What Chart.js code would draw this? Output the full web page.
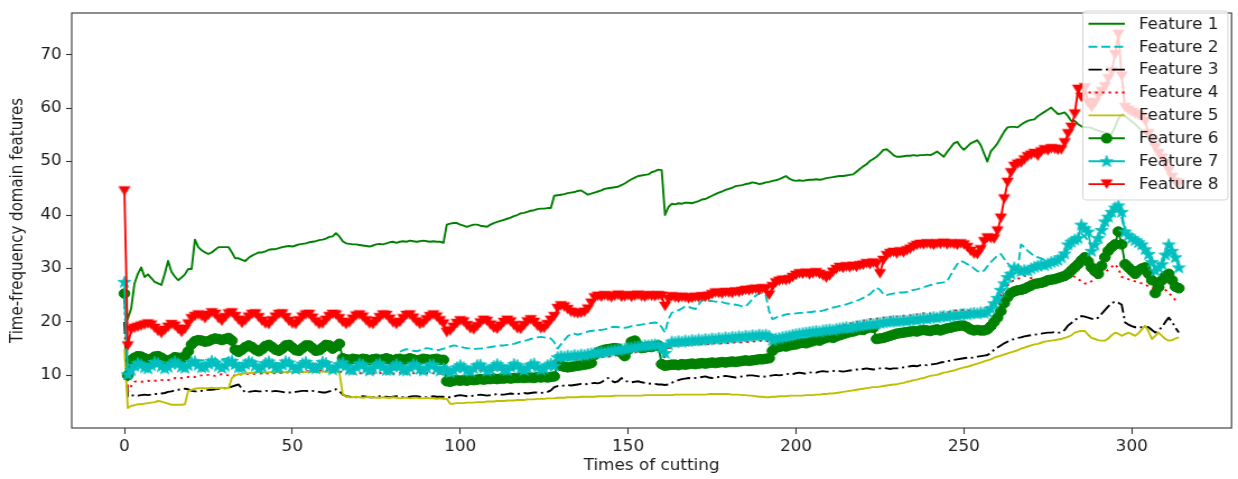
<!DOCTYPE html>
<html>
<head>
<meta charset="utf-8">
<script src="https://cdn.jsdelivr.net/npm/chart.js@4.4.1/dist/chart.umd.min.js"></script>
<style>
  html, body { margin: 0; padding: 0; background: #fff; }
  /* the reference figure is stretched sideways, so the canvas is drawn narrower and widened by css */
  #chart { display: block; width: 1238px !important; height: 479px !important; }
</style>
</head>
<body>
<canvas id="chart" width="1105" height="479" style="width:1238px;height:479px"></canvas>
<script>
const cuts = Array.from({length: 315}, (_, i) => i);
const xTicks = [0, 50, 100, 150, 200, 250, 300];
const yTicks = [10, 20, 30, 40, 50, 60, 70];
const featureNames = ['Feature 1', 'Feature 2', 'Feature 3', 'Feature 4',
                      'Feature 5', 'Feature 6', 'Feature 7', 'Feature 8'];

const feature1 = [
  24.0, 20.6, 22.5, 27.2, 29.0, 30.2, 28.4, 28.9, 28.2, 27.5,
  27.2, 26.9, 29.0, 31.4, 29.4, 28.5, 27.8, 28.3, 28.9, 29.9,
  29.9, 35.4, 34.0, 33.4, 33.0, 32.7, 33.0, 33.5, 34.0, 34.0,
  34.0, 34.0, 33.0, 31.9, 31.9, 31.6, 31.4, 32.0, 32.4, 32.7,
  33.0, 33.0, 33.2, 33.5, 33.6, 33.6, 33.8, 34.0, 34.1, 34.2,
  34.1, 34.3, 34.5, 34.6, 34.7, 34.9, 35.0, 35.1, 35.3, 35.4,
  35.6, 35.9, 36.0, 36.6, 36.0, 35.1, 34.7, 34.6, 34.5, 34.5,
  34.4, 34.3, 34.2, 34.1, 34.3, 34.5, 34.6, 34.5, 34.7, 34.9,
  35.0, 34.8, 35.0, 35.1, 35.0, 35.2, 35.1, 35.0, 35.1, 35.2,
  35.1, 35.0, 35.1, 35.0, 35.0, 34.8, 38.2, 38.4, 38.5, 38.5,
  38.2, 38.0, 37.8, 38.0, 38.2, 38.2, 38.0, 37.9, 37.8, 38.2,
  38.5, 38.7, 38.9, 39.1, 39.3, 39.5, 39.8, 40.0, 40.3, 40.4,
  40.6, 40.8, 40.9, 41.1, 41.2, 41.2, 41.3, 41.3, 43.6, 43.7,
  43.8, 43.9, 44.1, 44.2, 44.3, 44.5, 44.6, 44.2, 43.8, 44.0,
  44.2, 44.4, 44.6, 44.9, 45.0, 45.1, 45.2, 45.3, 45.6, 45.9,
  46.3, 46.7, 47.0, 47.3, 47.4, 47.5, 47.6, 48.0, 48.2, 48.5,
  48.4, 40.0, 41.5, 42.1, 42.0, 42.2, 42.1, 42.3, 42.3, 42.2,
  42.4, 42.6, 42.9, 43.0, 43.3, 43.6, 43.9, 44.2, 44.4, 44.7,
  44.9, 45.1, 45.4, 45.5, 45.6, 45.8, 45.9, 46.1, 46.0, 45.8,
  45.9, 46.1, 46.2, 46.4, 46.5, 46.7, 47.0, 47.3, 46.8, 46.5,
  46.4, 46.5, 46.4, 46.5, 46.6, 46.6, 46.7, 46.6, 46.7, 46.9,
  47.0, 47.1, 47.2, 47.3, 47.3, 47.4, 47.5, 47.6, 48.1, 48.6,
  49.1, 49.5, 50.1, 50.5, 50.9, 51.5, 52.2, 52.3, 51.8, 51.2,
  50.9, 50.9, 51.0, 51.1, 51.1, 51.2, 51.1, 51.2, 51.2, 51.3,
  51.2, 51.5, 51.9, 51.4, 50.9, 51.8, 52.6, 53.4, 53.7, 52.8,
  52.2, 52.8, 53.4, 53.7, 54.0, 53.1, 51.5, 50.0, 51.9, 52.6,
  53.4, 54.5, 55.6, 56.4, 56.5, 56.5, 56.4, 56.9, 57.3, 57.6,
  57.8, 57.9, 58.5, 58.9, 59.3, 59.7, 60.1, 59.5, 58.9, 59.0,
  59.2, 58.5, 57.6, 57.6, 57.0, 56.6, 56.4, 56.4, 56.3, 56.0,
  55.8, 55.6, 55.4, 55.3, 55.2, 56.5, 58.0, 58.9, 58.5, 58.0,
  57.5, 57.0, 56.4, 55.8, 55.2, 54.4, 53.6, 52.8, 51.8, 50.8,
  49.7, 48.5, 47.3, 46.3, 45.8
];

const feature2 = [
  26.5, 10.5, 11.4, 11.6, 11.8, 11.9, 12.0, 12.0, 12.1, 12.2,
  12.2, 12.3, 12.3, 12.4, 12.4, 12.5, 12.5, 12.6, 12.6, 12.7,
  12.7, 12.8, 12.8, 12.8, 12.9, 12.9, 12.9, 13.0, 13.0, 13.0,
  13.1, 13.3, 13.8, 14.5, 14.6, 14.7, 14.8, 14.8, 14.9, 14.9,
  14.9, 14.9, 15.0, 15.0, 15.0, 15.0, 15.0, 15.0, 15.1, 15.1,
  15.1, 15.1, 15.1, 15.1, 15.1, 15.1, 15.2, 15.2, 15.2, 15.2,
  15.2, 15.2, 15.2, 15.2, 15.0, 13.3, 13.1, 13.0, 13.0, 13.0,
  13.0, 13.0, 13.0, 13.0, 13.0, 13.0, 13.0, 13.0, 13.0, 13.1,
  13.4, 13.9, 14.4, 14.7, 14.9, 14.8, 14.6, 14.5, 14.7, 14.9,
  15.1, 15.0, 14.8, 14.7, 14.8, 15.0, 15.2, 15.4, 15.6, 15.5,
  15.4, 15.2, 15.1, 15.0, 14.9, 15.0, 15.0, 15.1, 15.2, 15.3,
  15.4, 15.5, 15.6, 15.6, 15.7, 15.8, 15.9, 16.1, 16.3, 16.4,
  16.6, 16.8, 17.0, 17.1, 17.2, 17.1, 17.0, 16.9, 16.2, 15.0,
  15.8, 16.6, 17.3, 17.7, 17.8, 17.6, 17.8, 18.0, 18.2, 18.3,
  18.4, 18.5, 18.5, 18.6, 18.8, 19.0, 19.1, 19.0, 19.0, 18.9,
  19.0, 19.2, 19.3, 19.4, 19.5, 19.6, 19.7, 19.8, 19.9, 19.8,
  19.0, 18.0, 20.5, 21.7, 22.0, 22.2, 22.5, 22.9, 22.8, 22.6,
  22.4, 23.2, 24.1, 24.0, 23.9, 23.9, 23.8, 23.8, 23.7, 23.5,
  23.4, 23.3, 23.2, 23.1, 22.9, 22.9, 23.5, 24.3, 24.9, 25.3,
  25.4, 25.0, 22.0, 20.5, 20.8, 21.0, 21.2, 21.4, 21.5, 21.5,
  21.6, 21.7, 21.7, 21.8, 21.8, 21.9, 22.0, 22.0, 22.1, 22.3,
  22.5, 22.7, 22.8, 23.0, 23.1, 23.3, 23.5, 23.7, 23.9, 24.2,
  24.5, 24.8, 25.2, 25.8, 26.4, 26.0, 25.2, 25.0, 25.2, 25.3,
  25.4, 25.5, 25.5, 25.6, 25.8, 26.0, 26.1, 26.3, 26.5, 26.7,
  26.9, 27.0, 27.2, 27.3, 27.4, 27.6, 28.7, 29.8, 30.8, 31.4,
  31.2, 30.8, 30.6, 30.0, 29.5, 29.3, 29.6, 30.4, 31.2, 31.8,
  32.4, 32.7, 31.8, 31.0, 30.4, 29.8, 29.6, 34.5, 34.0, 33.3,
  32.8, 32.3, 32.1, 31.9, 31.6, 31.4, 31.0, 30.8, 31.2, 31.8,
  32.4, 33.5, 34.0, 34.5, 35.0, 36.5, 36.0, 35.2, 34.0, 34.6,
  35.2, 36.5, 38.0, 39.0, 39.8, 40.5, 41.0, 39.5, 36.5, 35.8,
  35.2, 34.8, 34.3, 33.8, 33.0, 32.2, 31.0, 29.8, 30.2, 30.8,
  32.0, 33.5, 32.6, 31.5, 30.5
];

const feature3 = [
  20.0, 6.0, 6.2, 6.3, 6.2, 6.3, 6.4, 6.3, 6.4, 6.5,
  6.5, 6.6, 6.7, 6.9, 7.0, 7.2, 7.3, 7.4, 7.5, 7.4,
  7.1, 7.0, 7.0, 7.1, 7.2, 7.3, 7.3, 7.4, 7.5, 7.6,
  7.6, 7.7, 7.9, 8.1, 8.3, 7.5, 6.8, 6.9, 7.0, 7.1,
  7.0, 7.0, 7.1, 7.1, 7.0, 7.1, 7.0, 6.9, 6.8, 6.8,
  6.8, 6.9, 7.0, 7.1, 7.1, 7.0, 7.1, 7.0, 6.9, 6.8,
  6.8, 7.0, 7.2, 7.4, 7.1, 6.4, 6.1, 6.0, 5.9, 5.9,
  6.0, 6.1, 6.0, 5.9, 5.9, 6.0, 6.1, 6.0, 6.0, 5.9,
  6.0, 6.1, 6.0, 5.9, 5.9, 6.0, 6.1, 6.1, 6.0, 5.9,
  5.9, 6.0, 6.1, 6.0, 6.0, 6.0, 5.9, 5.9, 6.0, 6.2,
  6.3, 6.2, 6.1, 6.1, 6.2, 6.3, 6.4, 6.3, 6.2, 6.3,
  6.4, 6.5, 6.4, 6.4, 6.5, 6.6, 6.5, 6.5, 6.6, 6.7,
  6.6, 6.7, 6.8, 6.8, 6.7, 6.8, 6.9, 7.2, 7.8, 8.0,
  8.0, 8.1, 8.2, 8.1, 8.2, 8.3, 8.4, 8.3, 8.4, 8.5,
  8.6, 8.5, 8.7, 9.1, 9.5, 9.0, 8.7, 8.9, 9.5, 9.0,
  8.8, 8.7, 8.8, 8.9, 8.7, 8.6, 8.5, 8.4, 8.4, 8.3,
  8.3, 8.2, 8.3, 8.6, 8.9, 9.1, 9.3, 9.4, 9.5, 9.4,
  9.5, 9.6, 9.7, 9.8, 9.6, 9.5, 9.6, 9.7, 9.8, 9.9,
  9.8, 9.7, 9.6, 9.7, 9.8, 9.9, 10.0, 10.0, 9.9, 9.8,
  9.7, 9.8, 9.9, 10.0, 10.1, 10.0, 10.1, 10.2, 10.3, 10.2,
  10.4, 10.5, 10.4, 10.3, 10.5, 10.6, 10.5, 10.7, 10.8, 10.7,
  10.7, 10.8, 10.9, 10.8, 10.7, 10.8, 10.9, 11.0, 11.1, 11.0,
  11.2, 11.3, 11.2, 11.1, 11.2, 11.3, 11.4, 11.3, 11.2, 11.3,
  11.3, 11.4, 11.5, 11.6, 11.7, 11.8, 11.7, 11.9, 12.0, 11.9,
  12.0, 12.1, 12.2, 12.4, 12.5, 12.6, 12.8, 12.9, 13.0, 13.1,
  13.2, 13.3, 13.2, 13.4, 13.5, 13.6, 13.7, 13.8, 14.2, 14.8,
  15.2, 15.6, 16.0, 16.3, 16.6, 16.8, 17.0, 17.1, 17.3, 17.4,
  17.5, 17.6, 17.7, 17.8, 17.9, 18.0, 18.0, 18.1, 18.0, 18.0,
  18.5, 19.3, 19.8, 20.3, 20.8, 21.1, 21.0, 20.8, 20.6, 20.5,
  20.8, 21.5, 22.2, 22.9, 23.5, 23.8, 23.6, 23.2, 19.9, 19.5,
  19.2, 19.0, 19.0, 19.0, 19.1, 19.0, 18.5, 18.0, 18.5, 19.0,
  20.0, 20.8, 20.0, 18.9, 18.0
];

const feature4 = [
  24.0, 7.0, 8.0, 8.8, 8.9, 8.8, 8.9, 9.0, 8.9, 9.0,
  9.0, 9.1, 9.2, 9.1, 9.3, 9.5, 9.4, 9.5, 9.6, 9.7,
  9.8, 9.7, 9.9, 10.0, 10.0, 10.1, 10.0, 9.9, 10.1, 10.2,
  10.1, 10.0, 9.9, 10.0, 10.1, 10.2, 10.2, 10.3, 10.2, 10.3,
  10.3, 10.4, 10.3, 10.4, 10.4, 10.4, 10.5, 10.4, 10.5, 10.6,
  10.6, 10.7, 10.6, 10.7, 10.8, 10.8, 10.9, 10.8, 10.9, 10.9,
  10.9, 10.8, 10.9, 10.8, 10.7, 10.6, 10.5, 10.4, 10.4, 10.3,
  10.4, 10.4, 10.3, 10.4, 10.4, 10.3, 10.4, 10.5, 10.4, 10.4,
  10.3, 10.4, 10.5, 10.4, 10.3, 10.4, 10.4, 10.5, 10.4, 10.3,
  10.4, 10.5, 10.4, 10.4, 10.3, 10.4, 10.5, 10.6, 10.6, 10.7,
  10.7, 10.7, 10.8, 10.8, 10.8, 10.9, 10.9, 10.9, 11.0, 11.0,
  11.0, 11.0, 11.1, 11.1, 11.1, 11.1, 11.2, 11.2, 11.2, 11.2,
  11.3, 11.3, 11.3, 11.3, 11.3, 11.4, 11.4, 11.4, 11.5, 12.6,
  12.8, 12.9, 12.9, 12.9, 13.0, 12.9, 13.0, 13.0, 13.1, 13.2,
  13.3, 13.4, 13.4, 13.5, 13.5, 13.6, 13.7, 13.8, 13.9, 14.0,
  14.1, 14.2, 14.3, 14.4, 14.5, 14.6, 14.6, 14.7, 14.8, 14.8,
  14.5, 13.2, 15.0, 15.5, 15.6, 15.5, 15.6, 15.7, 15.6, 15.7,
  15.8, 15.7, 15.8, 15.9, 15.8, 15.9, 16.0, 15.9, 16.0, 16.1,
  16.0, 16.1, 16.2, 16.1, 16.2, 16.3, 16.2, 16.3, 16.4, 16.4,
  16.5, 16.5, 16.3, 16.0, 16.3, 16.5, 16.7, 16.8, 17.0, 17.1,
  17.3, 17.4, 17.6, 17.7, 17.9, 18.0, 18.2, 18.3, 18.5, 18.6,
  18.8, 18.9, 19.1, 19.2, 19.4, 19.5, 19.7, 19.8, 20.0, 20.1,
  20.2, 20.4, 20.5, 20.6, 20.6, 20.7, 20.8, 20.8, 20.9, 21.0,
  21.0, 21.1, 21.1, 21.2, 21.2, 21.3, 21.4, 21.5, 21.6, 21.7,
  21.5, 21.3, 21.4, 21.6, 21.8, 21.7, 21.9, 22.0, 22.2, 22.1,
  22.3, 22.2, 22.0, 21.8, 21.7, 21.9, 22.4, 22.8, 23.2, 23.5,
  24.1, 25.0, 26.0, 26.8, 27.5, 27.8, 28.0, 28.4, 28.6, 28.4,
  28.2, 28.0, 27.9, 28.1, 28.3, 28.2, 28.0, 28.2, 28.4, 28.6,
  29.0, 29.2, 28.8, 28.4, 28.0, 27.6, 27.2, 27.2, 27.6, 28.0,
  28.4, 28.8, 29.3, 29.8, 30.3, 30.8, 30.0, 28.4, 28.2, 28.0,
  27.8, 27.6, 27.4, 27.2, 27.0, 26.6, 26.4, 26.2, 26.2, 26.3,
  26.0, 25.4, 24.8, 24.1, 23.8
];

const feature5 = [
  15.0, 3.9, 4.3, 4.4, 4.6, 4.6, 4.7, 4.8, 4.9, 5.0,
  5.2, 5.1, 4.9, 4.7, 4.5, 4.5, 4.5, 4.5, 4.6, 7.1,
  7.3, 7.5, 7.6, 7.6, 7.6, 7.6, 7.7, 7.6, 7.6, 7.7,
  7.6, 7.6, 9.5, 10.0, 10.2, 10.3, 10.4, 10.4, 10.5, 10.5,
  10.6, 10.6, 10.5, 10.6, 10.6, 10.6, 10.7, 10.6, 10.6, 10.7,
  10.6, 10.6, 10.7, 10.6, 10.6, 10.7, 10.7, 10.6, 10.6, 10.7,
  10.7, 10.6, 10.6, 10.7, 10.6, 6.5, 6.0, 5.9, 5.9, 6.0,
  5.9, 5.8, 5.9, 6.0, 5.9, 5.8, 5.8, 5.9, 5.8, 5.8,
  5.9, 5.8, 5.7, 5.8, 5.8, 5.7, 5.8, 5.8, 5.7, 5.7,
  5.8, 5.7, 5.7, 5.6, 5.7, 5.6, 5.6, 4.7, 4.7, 4.8,
  4.8, 4.8, 4.9, 4.9, 4.9, 5.0, 5.0, 5.0, 5.1, 5.1,
  5.1, 5.2, 5.2, 5.2, 5.3, 5.3, 5.3, 5.4, 5.4, 5.4,
  5.5, 5.5, 5.5, 5.6, 5.6, 5.6, 5.7, 5.7, 5.7, 5.8,
  5.8, 5.8, 5.9, 5.9, 5.9, 5.9, 6.0, 6.0, 6.0, 6.0,
  6.0, 6.1, 6.1, 6.1, 6.1, 6.1, 6.2, 6.2, 6.2, 6.2,
  6.2, 6.2, 6.2, 6.2, 6.2, 6.3, 6.3, 6.3, 6.3, 6.3,
  6.3, 6.3, 6.3, 6.3, 6.4, 6.4, 6.4, 6.4, 6.4, 6.4,
  6.4, 6.4, 6.4, 6.4, 6.5, 6.5, 6.5, 6.5, 6.5, 6.5,
  6.5, 6.4, 6.4, 6.4, 6.3, 6.3, 6.2, 6.2, 6.1, 6.0,
  6.0, 5.9, 5.9, 6.0, 6.0, 6.1, 6.1, 6.1, 6.2, 6.2,
  6.2, 6.2, 6.2, 6.3, 6.3, 6.3, 6.4, 6.4, 6.5, 6.5,
  6.6, 6.6, 6.7, 6.8, 6.9, 7.0, 7.1, 7.2, 7.3, 7.4,
  7.5, 7.6, 7.7, 7.8, 7.8, 7.9, 8.0, 8.1, 8.2, 8.3,
  8.3, 8.5, 8.6, 8.8, 8.9, 9.1, 9.2, 9.4, 9.5, 9.7,
  9.9, 10.0, 10.1, 10.3, 10.5, 10.6, 10.8, 10.9, 11.1, 11.3,
  11.5, 11.6, 11.8, 12.0, 12.2, 12.4, 12.6, 12.8, 13.0, 13.3,
  13.5, 13.7, 13.9, 14.1, 14.3, 14.5, 14.7, 15.0, 15.2, 15.4,
  15.6, 15.8, 15.9, 16.1, 16.3, 16.4, 16.5, 16.6, 16.7, 16.8,
  17.0, 17.2, 17.5, 18.0, 18.2, 18.3, 18.3, 17.6, 17.0, 16.8,
  16.6, 16.5, 16.5, 16.9, 17.5, 18.0, 17.8, 17.4, 17.7, 18.0,
  17.7, 17.4, 17.9, 18.6, 19.3, 18.2, 16.8, 17.4, 18.0, 17.4,
  16.8, 16.5, 16.6, 16.9, 17.1
];

const feature6 = [
  25.3, 10.0, 12.8, 13.3, 13.6, 13.5, 13.2, 12.9, 13.1, 13.5,
  13.6, 13.3, 12.9, 12.7, 13.0, 13.4, 13.3, 13.0, 13.6, 14.5,
  15.8, 16.4, 16.6, 16.5, 16.3, 16.4, 16.7, 16.9, 16.8, 16.6,
  16.8, 17.0, 16.5, 14.8, 14.4, 14.8, 15.3, 15.6, 15.3, 14.8,
  14.5, 14.9, 15.5, 15.7, 15.3, 14.8, 14.6, 15.0, 15.6, 15.7,
  15.2, 14.7, 14.6, 15.1, 15.6, 15.6, 15.1, 14.6, 14.7, 15.2,
  15.7, 15.6, 15.0, 15.4, 15.9, 13.2, 13.0, 12.9, 13.1, 13.0,
  12.9, 13.1, 13.0, 12.8, 13.0, 13.1, 12.9, 13.0, 13.2, 13.0,
  12.8, 13.0, 13.1, 12.9, 13.0, 13.2, 13.0, 12.8, 12.9, 13.1,
  13.0, 12.9, 13.0, 13.1, 12.9, 12.9, 8.9, 8.8, 9.0, 9.1,
  9.0, 9.1, 9.0, 9.2, 9.1, 9.2, 9.3, 9.2, 9.3, 9.3,
  9.4, 9.3, 9.4, 9.4, 9.5, 9.4, 9.5, 9.5, 9.6, 9.5,
  9.6, 9.6, 9.5, 9.7, 9.6, 9.7, 9.6, 9.7, 9.8, 12.2,
  11.8, 11.6, 11.5, 11.6, 11.7, 11.8, 11.9, 12.0, 12.1, 12.3,
  13.8, 14.3, 14.6, 14.8, 14.9, 15.0, 15.1, 15.0, 14.2, 13.6,
  14.8, 16.3, 16.5, 15.6, 15.1, 15.2, 15.4, 15.3, 15.5, 15.6,
  12.1, 11.8, 11.9, 12.0, 12.0, 11.9, 12.1, 12.0, 12.1, 12.2,
  12.1, 12.2, 12.3, 12.2, 12.3, 12.4, 12.3, 12.4, 12.5, 12.4,
  12.5, 12.6, 12.5, 12.6, 12.7, 12.8, 12.7, 12.8, 12.9, 13.0,
  13.0, 13.1, 13.2, 14.6, 15.2, 15.3, 15.5, 15.4, 15.6, 15.7,
  15.8, 16.0, 16.1, 16.0, 16.2, 16.4, 16.6, 16.5, 16.8, 17.0,
  17.2, 17.0, 17.3, 17.5, 17.7, 17.9, 18.1, 18.2, 18.4, 18.6,
  18.5, 18.8, 19.0, 18.9, 16.8, 16.9, 17.0, 17.2, 17.4, 17.6,
  17.8, 17.9, 18.0, 18.1, 18.2, 18.3, 18.2, 18.4, 18.5, 18.4,
  18.3, 18.5, 18.6, 18.4, 18.6, 18.8, 18.9, 19.1, 19.2, 19.3,
  19.3, 19.0, 18.6, 18.4, 18.5, 18.4, 18.4, 18.6, 19.2, 20.0,
  20.8, 22.0, 23.5, 24.6, 25.4, 25.7, 25.9, 26.0, 26.2, 26.5,
  26.8, 27.1, 27.2, 27.3, 27.5, 27.8, 27.9, 28.0, 28.2, 28.4,
  28.6, 29.0, 29.6, 30.2, 30.8, 31.5, 32.1, 31.3, 30.2, 29.5,
  29.0, 30.5, 32.1, 33.3, 34.0, 34.5, 36.9, 34.5, 30.8, 30.2,
  29.6, 29.0, 29.6, 30.0, 30.2, 29.0, 27.8, 25.4, 26.5, 27.8,
  28.6, 29.0, 27.8, 26.6, 26.3
];

const feature7 = [
  27.5, 10.2, 11.0, 11.8, 12.3, 12.0, 11.5, 11.3, 11.9, 12.5,
  12.3, 11.7, 11.3, 11.6, 12.2, 12.6, 12.2, 11.6, 11.4, 11.9,
  12.5, 12.6, 12.0, 11.5, 11.6, 12.2, 12.7, 12.4, 11.8, 11.4,
  11.8, 12.5, 12.7, 12.1, 11.5, 11.5, 12.1, 12.6, 12.4, 11.8,
  11.3, 11.6, 12.3, 12.6, 12.1, 11.5, 11.4, 12.0, 12.6, 12.4,
  11.7, 11.2, 11.5, 12.2, 12.5, 12.0, 11.4, 11.3, 11.9, 12.5,
  12.3, 11.6, 11.1, 11.4, 12.1, 12.4, 11.8, 11.1, 11.0, 11.6,
  12.2, 12.0, 11.3, 10.9, 11.3, 12.0, 12.2, 11.6, 11.0, 11.0,
  11.7, 12.1, 11.7, 11.0, 10.9, 11.5, 12.1, 11.9, 11.2, 10.9,
  11.4, 12.0, 12.0, 11.3, 10.9, 11.3, 11.0, 10.6, 10.9, 11.5,
  11.9, 11.5, 10.9, 10.8, 11.3, 11.9, 12.0, 11.4, 10.9, 11.1,
  11.7, 12.1, 11.7, 11.1, 11.0, 11.6, 12.1, 11.9, 11.3, 11.0,
  11.4, 12.0, 12.2, 11.6, 11.1, 11.3, 11.9, 12.2, 11.8, 13.4,
  13.6, 13.5, 13.7, 13.6, 13.8, 13.7, 13.9, 13.8, 14.0, 14.1,
  14.2, 14.3, 14.4, 14.3, 14.5, 14.6, 14.7, 14.8, 14.9, 15.0,
  15.1, 15.2, 15.3, 15.4, 15.5, 15.6, 15.6, 15.7, 15.8, 15.7,
  15.3, 14.2, 15.8, 16.3, 16.2, 16.4, 16.3, 16.5, 16.4, 16.6,
  16.5, 16.7, 16.6, 16.8, 16.7, 16.9, 16.8, 17.0, 16.9, 17.1,
  17.0, 17.2, 17.1, 17.3, 17.2, 17.4, 17.3, 17.5, 17.4, 17.6,
  17.5, 17.6, 17.4, 16.6, 16.9, 17.0, 17.2, 17.3, 17.4, 17.6,
  17.7, 17.8, 17.9, 18.0, 18.1, 18.2, 18.3, 18.2, 18.4, 18.5,
  18.6, 18.5, 18.7, 18.8, 18.9, 19.0, 18.9, 19.1, 19.2, 19.3,
  19.4, 19.5, 19.6, 19.6, 19.7, 19.8, 19.9, 20.0, 20.1, 20.2,
  20.1, 20.2, 20.3, 20.2, 20.4, 20.5, 20.4, 20.6, 20.7, 20.6,
  20.8, 20.9, 20.8, 21.0, 21.1, 21.0, 21.2, 21.3, 21.2, 21.4,
  21.5, 21.4, 21.6, 21.7, 21.6, 21.8, 21.7, 21.9, 22.5, 23.5,
  24.5, 26.0, 27.2, 28.4, 29.0, 30.2, 29.8, 29.5, 29.7, 29.6,
  30.0, 30.3, 30.5, 30.8, 30.6, 30.9, 31.2, 31.4, 31.6, 32.1,
  32.8, 34.5, 35.0, 35.4, 35.7, 38.2, 37.5, 36.9, 33.3, 34.5,
  35.7, 37.2, 38.8, 39.7, 40.6, 41.4, 41.8, 40.6, 36.9, 36.2,
  35.7, 35.3, 34.9, 34.5, 33.6, 32.7, 31.2, 29.6, 30.2, 30.8,
  32.6, 34.5, 33.3, 32.1, 30.2
];

const feature8 = [
  44.5, 15.5, 18.5, 18.8, 19.0, 19.2, 19.4, 19.6, 19.4, 18.8,
  18.2, 17.8, 18.4, 19.0, 19.5, 19.2, 18.6, 18.0, 18.6, 19.6,
  20.6, 21.0, 21.3, 21.0, 20.6, 21.2, 21.7, 21.4, 20.6, 20.1,
  20.8, 21.5, 21.7, 21.0, 20.3, 19.7, 20.2, 20.9, 21.4, 21.5,
  20.8, 20.1, 19.6, 19.5, 20.2, 20.9, 21.4, 21.5, 20.8, 20.1,
  19.6, 19.5, 20.2, 20.9, 21.3, 21.4, 20.7, 20.0, 19.5, 19.6,
  20.3, 21.0, 21.4, 21.3, 20.6, 19.9, 19.5, 19.8, 20.5, 21.1,
  21.3, 20.9, 20.2, 19.6, 19.5, 20.1, 20.8, 21.3, 21.2, 20.5,
  19.8, 19.5, 19.9, 20.6, 21.2, 21.3, 20.7, 20.0, 19.5, 19.7,
  20.4, 21.0, 21.3, 20.9, 20.2, 19.6, 18.0, 18.3, 19.0, 19.7,
  20.2, 20.0, 19.3, 18.7, 18.5, 19.1, 19.8, 20.3, 20.1, 19.4,
  18.8, 18.6, 19.2, 19.9, 20.3, 20.0, 19.3, 18.7, 18.6, 19.3,
  20.0, 20.4, 19.9, 19.2, 18.7, 18.8, 19.5, 20.3, 21.0, 22.5,
  23.0, 22.8, 22.3, 21.8, 21.6, 21.5, 21.6, 21.8, 22.4, 23.5,
  24.5, 24.8, 24.6, 24.9, 24.7, 24.5, 24.8, 25.0, 24.6, 24.7,
  24.9, 24.6, 24.8, 25.0, 24.7, 24.6, 24.9, 24.8, 24.7, 24.9,
  24.8, 22.9, 24.2, 24.7, 24.5, 24.4, 24.6, 24.5, 24.3, 24.4,
  24.6, 24.5, 24.7, 24.6, 24.8, 25.1, 25.4, 25.3, 25.2, 25.5,
  25.4, 25.3, 25.6, 25.5, 25.7, 25.9, 25.8, 26.0, 26.1, 25.9,
  26.2, 26.1, 25.0, 26.6, 27.3, 27.6, 27.8, 27.7, 27.9, 28.3,
  28.7, 29.0, 28.9, 29.1, 28.8, 29.0, 29.2, 28.9, 28.6, 28.2,
  28.6, 29.3, 29.8, 30.2, 30.0, 30.3, 30.1, 30.4, 30.2, 30.5,
  30.6, 30.9, 30.7, 31.0, 30.8, 29.0, 31.5, 32.4, 32.8, 33.0,
  32.7, 33.1, 32.9, 33.3, 33.6, 34.0, 34.3, 34.5, 34.4, 34.6,
  34.5, 34.3, 34.6, 34.5, 34.7, 34.4, 34.6, 34.5, 34.3, 34.6,
  34.4, 33.9, 33.2, 32.7, 32.6, 33.5, 35.0, 35.7, 35.6, 35.5,
  37.0, 39.4, 43.0, 46.1, 47.9, 49.1, 49.5, 49.7, 50.3, 50.9,
  51.2, 51.5, 51.0, 51.8, 52.2, 52.0, 52.4, 52.3, 52.1, 52.2,
  53.5, 55.2, 56.4, 58.9, 63.5, 62.0, 63.8, 61.0, 60.1, 61.0,
  62.3, 63.1, 64.0, 65.5, 66.8, 70.0, 73.8, 66.0, 60.1, 59.6,
  59.2, 58.9, 58.6, 58.3, 57.5, 55.2, 54.0, 52.6, 51.5, 50.6,
  49.7, 48.3, 47.0, 46.1, 45.9
];

const series = [feature1, feature2, feature3, feature4, feature5, feature6, feature7, feature8];

// marker images (matplotlib 'v' and '*')
function markerCanvas(w, h, draw) {
  const c = document.createElement('canvas');
  c.width = w;
  c.height = h;
  draw(c.getContext('2d'));
  return c;
}
const triangleDown = markerCanvas(13, 13, ctx => {
  ctx.beginPath();
  ctx.moveTo(1, 1.75);
  ctx.lineTo(12, 1.75);
  ctx.lineTo(6.5, 11.25);
  ctx.closePath();
  ctx.fillStyle = '#ff0000';
  ctx.fill();
});
const starMarker = markerCanvas(14, 14, ctx => {
  ctx.beginPath();
  for (let k = 0; k < 10; k++) {
    const r = k % 2 === 0 ? 6.2 : 2.5;
    const a = -Math.PI / 2 + k * Math.PI / 5;
    const px = 7 + r * Math.cos(a), py = 7.4 + r * Math.sin(a);
    if (k === 0) ctx.moveTo(px, py); else ctx.lineTo(px, py);
  }
  ctx.closePath();
  ctx.fillStyle = '#00bfbf';
  ctx.strokeStyle = '#00bfbf';
  ctx.lineWidth = 0.8;
  ctx.fill();
  ctx.stroke();
});

const styles = [
  { color: '#008000', dash: [], marker: null },
  { color: '#00bfbf', dash: [8, 3.5], marker: null },
  { color: '#000000', dash: [12, 3.5, 2, 3.5], marker: null },
  { color: '#ff0000', dash: [2.2, 3.8], marker: null },
  { color: '#bfbf00', dash: [], marker: null },
  { color: '#008000', dash: [], marker: 'circle' },
  { color: '#00bfbf', dash: [], marker: starMarker },
  { color: '#ff0000', dash: [], marker: triangleDown }
];

const LINE_W = 1.9;
const FONT = { family: 'DejaVu Sans', size: 15 };
const TEXT = '#1c1c1c';

const datasets = series.map((vals, i) => {
  const st = styles[i];
  return {
    label: featureNames[i],
    data: vals.map((v, j) => ({ x: cuts[j], y: v })),
    borderColor: st.color,
    backgroundColor: st.color,
    borderWidth: LINE_W,
    borderDash: st.dash,
    borderCapStyle: 'butt',
    borderJoinStyle: 'round',
    tension: 0,
    fill: false,
    order: 8 - i,
    pointStyle: st.marker || 'circle',
    pointRadius: st.marker ? 4.8 : 0,
    pointBorderWidth: 1,
    pointBorderColor: st.color,
    pointBackgroundColor: st.color,
    pointHitRadius: 0
  };
});

const frameAndLegend = {
  id: 'frameAndLegend',
  afterDatasetsDraw(chart) {
    const ctx = chart.ctx;
    const a = chart.chartArea;
    ctx.save();
    ctx.strokeStyle = '#333';
    ctx.lineWidth = 1.1;
    ctx.strokeRect(a.left, a.top, a.right - a.left, a.bottom - a.top);

    // legend box, upper right inside the axes
    const bx = 966.5, by = 11, bw = 129.5, bh = 189, rad = 3;
    ctx.beginPath();
    ctx.moveTo(bx + rad, by);
    ctx.arcTo(bx + bw, by, bx + bw, by + bh, rad);
    ctx.arcTo(bx + bw, by + bh, bx, by + bh, rad);
    ctx.arcTo(bx, by + bh, bx, by, rad);
    ctx.arcTo(bx, by, bx + bw, by, rad);
    ctx.closePath();
    ctx.fillStyle = 'rgba(255,255,255,0.8)';
    ctx.fill();
    ctx.strokeStyle = 'rgba(204,204,204,0.8)';
    ctx.lineWidth = 1;
    ctx.stroke();

    const x0 = 971.5, x1 = 1004, tx = 1016.5;
    ctx.font = FONT.size + 'px "' + FONT.family + '"';
    ctx.textBaseline = 'middle';
    featureNames.forEach((name, i) => {
      const st = styles[i];
      const y = 23.8 + i * 22.9;
      ctx.beginPath();
      ctx.setLineDash(st.dash);
      ctx.strokeStyle = st.color;
      ctx.lineWidth = LINE_W;
      ctx.lineCap = 'butt';
      ctx.moveTo(x0, y);
      ctx.lineTo(x1, y);
      ctx.stroke();
      ctx.setLineDash([]);
      const mx = (x0 + x1) / 2;
      if (st.marker === 'circle') {
        ctx.beginPath();
        ctx.arc(mx, y, 5.2, 0, Math.PI * 2);
        ctx.fillStyle = st.color;
        ctx.fill();
      } else if (st.marker) {
        ctx.drawImage(st.marker, mx - st.marker.width / 2, y - st.marker.height / 2);
      }
      ctx.fillStyle = TEXT;
      ctx.fillText(name, tx, y + 1);
    });
    ctx.restore();
  }
};

new Chart(document.getElementById('chart'), {
  type: 'line',
  data: { datasets },
  options: {
    responsive: false,
    animation: false,
    devicePixelRatio: 1,
    events: [],
    layout: { padding: { left: 0, right: 2, top: 3, bottom: 0 } },
    plugins: { legend: { display: false }, tooltip: { enabled: false } },
    scales: {
      x: {
        type: 'linear',
        min: -15.7,
        max: 329.7,
        afterBuildTicks: s => { s.ticks = xTicks.map(v => ({ value: v })); },
        afterFit: s => { s.height = 51; },
        grid: { drawOnChartArea: false, drawTicks: true, tickLength: 6, tickColor: '#333', tickWidth: 1.1 },
        border: { display: false },
        ticks: { font: FONT, color: TEXT, padding: 4, maxRotation: 0 },
        title: { display: true, text: 'Times of cutting', font: FONT, color: TEXT, padding: { top: 0, bottom: 4 } }
      },
      y: {
        type: 'linear',
        min: 0.15,
        max: 77.8,
        afterBuildTicks: s => { s.ticks = yTicks.map(v => ({ value: v })); },
        afterFit: s => { s.width = 64; },
        grid: { drawOnChartArea: false, drawTicks: true, tickLength: 5, tickColor: '#333', tickWidth: 1.1 },
        border: { display: false },
        ticks: { font: FONT, color: TEXT, padding: 4 },
        title: { display: true, text: 'Time-frequency domain features', font: FONT, color: TEXT, padding: { top: 7, bottom: 0 } }
      }
    }
  },
  plugins: [frameAndLegend]
});
</script>
</body>
</html>
